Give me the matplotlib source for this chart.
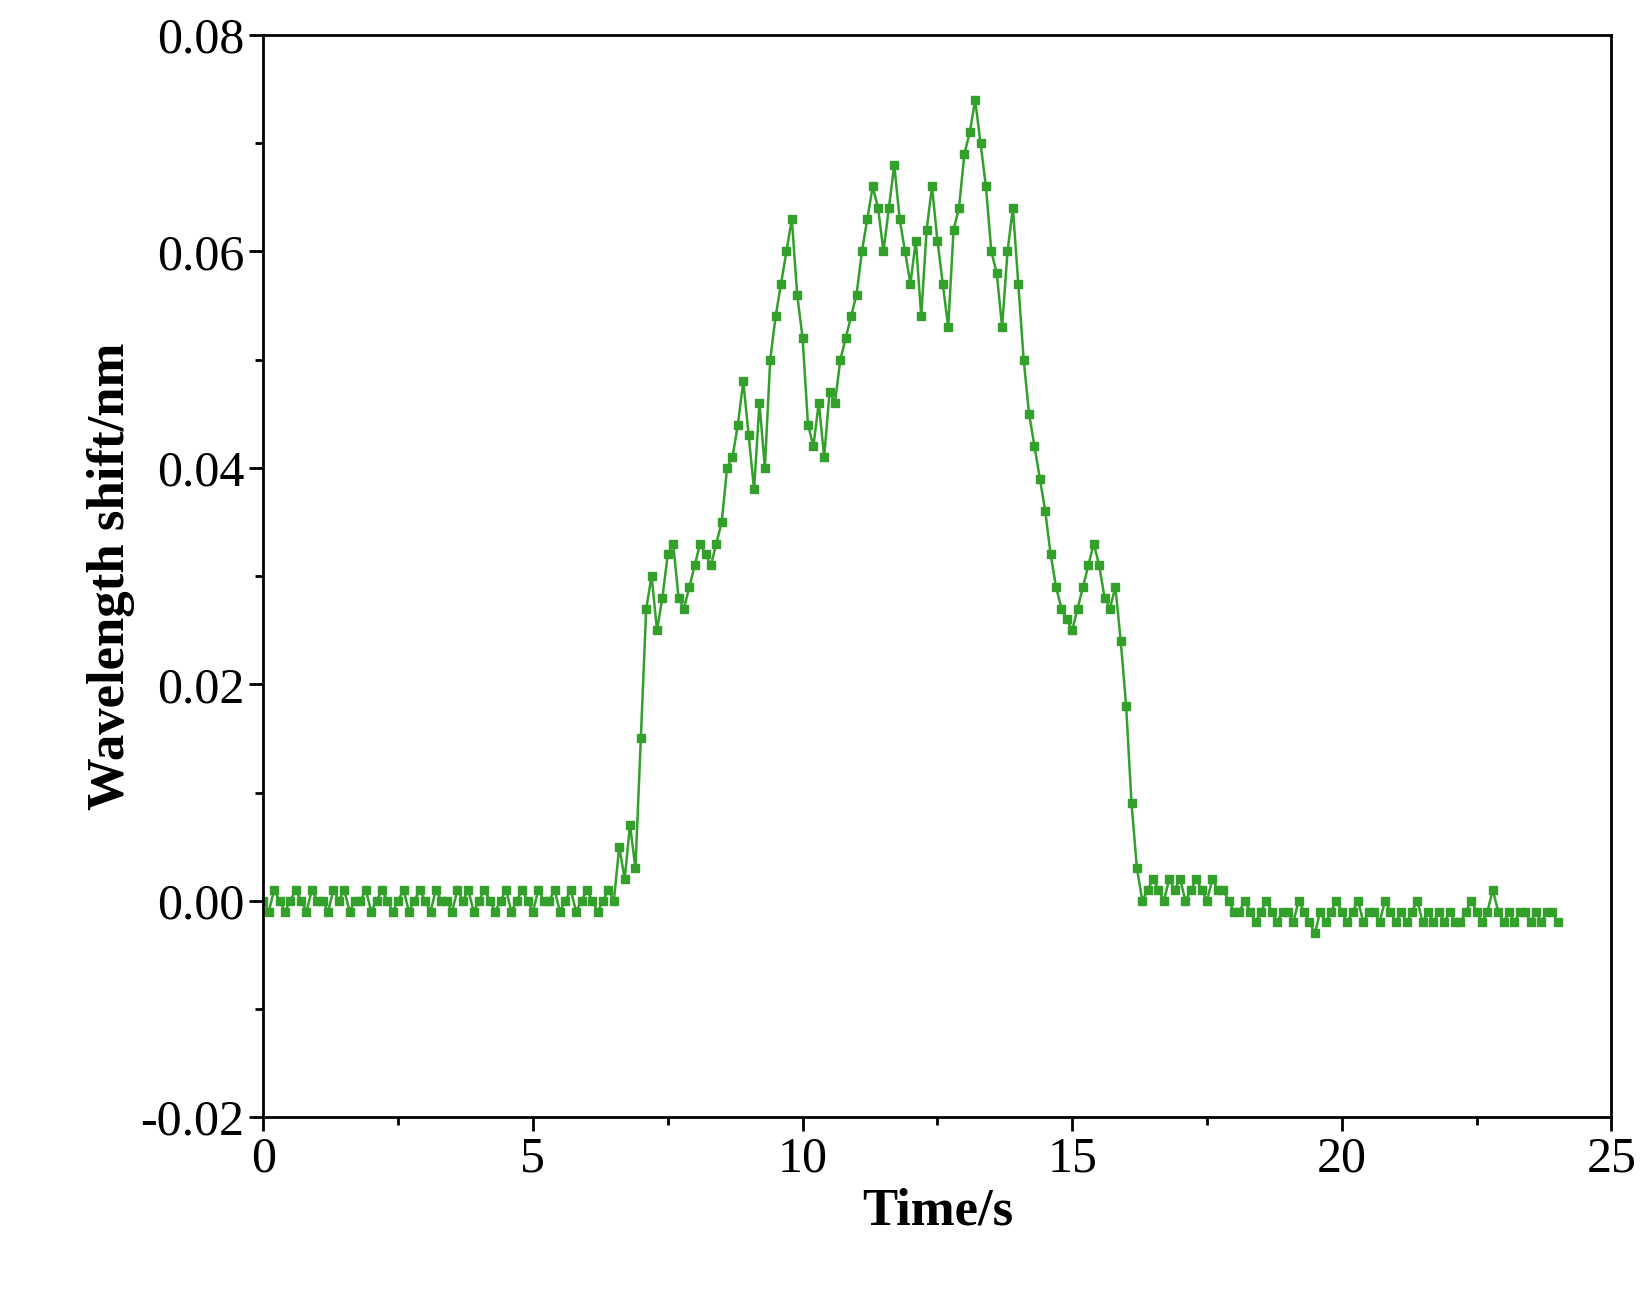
import numpy as np
import matplotlib.pyplot as plt
from matplotlib.ticker import MultipleLocator, FuncFormatter

# wavelength shift in units of 0.001 nm, sampled every 0.1 s from 0 to 23 s
base = [0, -1, 1, 0, -1, 0, 1, 0, -1, 1, 0, 0, -1, 1, 0, 1, -1, 0, 0, 1,
        -1, 0, 1, 0, -1, 0, 1, -1, 0, 1, 0, -1, 1, 0, 0, -1, 1, 0, 1, -1,
        0, 1, 0, -1, 0, 1, -1, 0, 1, 0, -1, 1, 0, 0, 1, -1, 0, 1, -1, 0,
        1, 0, -1, 0, 1, 0, 5, 2, 7, 3,
        15, 27, 30, 25, 28, 32, 33, 28, 27, 29,
        31, 33, 32, 31, 33, 35, 40, 41, 44, 48,
        43, 38, 46, 40, 50, 54, 57, 60, 63, 56,
        52, 44, 42, 46, 41, 47, 46, 50, 52, 54,
        56, 60, 63, 66, 64, 60, 64, 68, 63, 60,
        57, 61, 54, 62, 66, 61, 57, 53, 62, 64,
        69, 71, 74, 70, 66, 60, 58, 53, 60, 64,
        57, 50, 45, 42, 39, 36, 32, 29, 27, 26,
        25, 27, 29, 31, 33, 31, 28, 27, 29, 24,
        18, 9, 3, 0, 1, 2, 1, 0, 2, 1,
        2, 0, 1, 2, 1, 0, 2, 1, 1, 0,
        -1, -1, 0, -1, -2, -1, 0, -1, -2, -1,
        -1, -2, 0, -1, -2, -3, -1, -2, -1, 0,
        -1, -2, -1, 0, -2, -1, -1, -2, 0, -1,
        -2, -1, -2, -1, 0, -2, -1, -2, -1, -2,
        -1, -2, -2, -1, 0, -1, -2, -1, 1, -1,
        -2, -1, -2, -1, -1, -2, -1, -2, -1, -1, -2]
shift = np.array(base) / 1000.0
t = np.arange(len(shift)) * 0.1

plt.rcParams['font.family'] = ['Liberation Serif', 'DejaVu Serif']
fig = plt.figure(figsize=(16.46, 12.96), dpi=100)
ax = fig.add_axes([0.160, 0.138, 0.819, 0.835])
ax.plot(t, shift, color='#33a02c', lw=1.8, marker='s', ms=6, mec='#33a02c')

ax.set_xlim(0, 25)
ax.set_ylim(-0.02, 0.08)
ax.xaxis.set_major_locator(MultipleLocator(5))
ax.xaxis.set_minor_locator(MultipleLocator(2.5))
ax.yaxis.set_major_locator(MultipleLocator(0.02))
ax.yaxis.set_minor_locator(MultipleLocator(0.01))
ax.yaxis.set_major_formatter(FuncFormatter(lambda v, p: '%.2f' % v if abs(v) > 1e-9 else '0.00'))
ax.tick_params(which='major', direction='out', length=10, width=2, labelsize=36)
ax.tick_params(which='minor', direction='out', length=6, width=2)
for s in ax.spines.values():
    s.set_linewidth(2)
ax.set_xlabel('Time/s', fontsize=38, fontweight='bold')
ax.set_ylabel('Wavelength shift/nm', fontsize=38, fontweight='bold')

fig.savefig('out.png')
